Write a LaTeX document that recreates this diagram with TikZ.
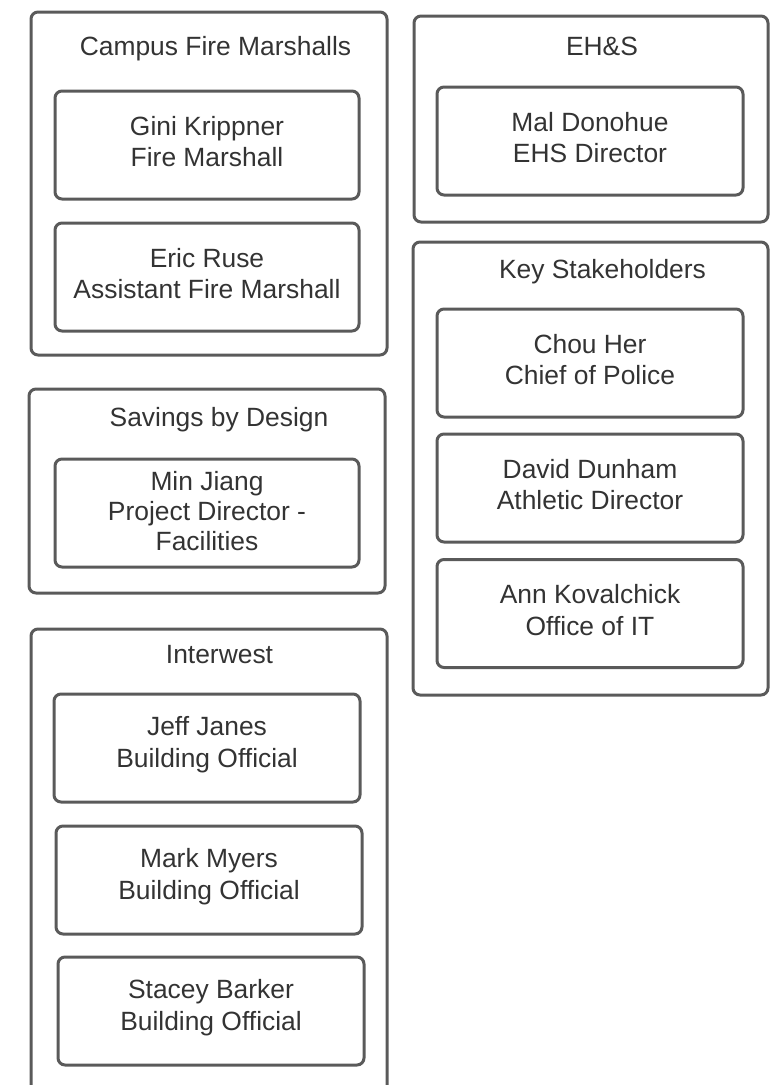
\documentclass[tikz,border=0pt]{standalone}
\usepackage{fontspec}
\setmainfont{Liberation Sans}
\definecolor{linegray}{HTML}{5A5A5A}
\definecolor{textgray}{HTML}{333333}
\begin{document}
\begin{tikzpicture}[x=1pt,y=-1pt,
  frame/.style={draw=linegray, line width=3pt, rounded corners=7pt, inner sep=0pt},
  person/.style={frame, minimum height=108pt},
  who/.style={align=center, text=textgray, inner sep=0pt, yshift=3.5pt,
    font=\fontsize{26.4}{31.5}\selectfont},
  heading/.style={text=textgray, inner sep=0pt, anchor=base,
    font=\fontsize{26.4}{31.5}\selectfont}]
\useasboundingbox (0,0) rectangle (770,1085);
\clip (0,0) rectangle (770,1085);

% Campus Fire Marshalls
\node[frame, minimum width=356pt, minimum height=343pt] (cfm) at (209,183.5) {};
\node[heading] (cfmT) at (215.5,55) {Campus Fire Marshalls};
\node[person, minimum width=304pt] (gini) at (207,145) {};
\node[who] (giniT) at (gini) {Gini Krippner\\Fire Marshall};
\node[person, minimum width=304pt] (eric) at (207,277) {};
\node[who] (ericT) at (eric) {Eric Ruse\\Assistant Fire Marshall};

% Savings by Design
\node[frame, minimum width=356pt, minimum height=204pt] (sbd) at (207,491) {};
\node[heading] (sbdT) at (219,426) {Savings by Design};
\node[person, minimum width=304pt] (min) at (207,513) {};
\node[who, font=\fontsize{26.4}{30}\selectfont, yshift=-1.5pt] (minT) at (min)
  {Min Jiang\\Project Director -\\Facilities};

% Interwest
\node[frame, minimum width=356pt, minimum height=481pt] (iw) at (209,869.5) {};
\node[heading] (iwT) at (219.5,663) {Interwest};
\node[person, minimum width=306pt] (jeff) at (207,748) {};
\node[who] (jeffT) at (jeff) {Jeff Janes\\Building Official};
\node[person, minimum width=306pt] (mark) at (209,880) {};
\node[who] (markT) at (mark) {Mark Myers\\Building Official};
\node[person, minimum width=306pt] (stacey) at (211,1011) {};
\node[who] (staceyT) at (stacey) {Stacey Barker\\Building Official};

% EH&S
\node[frame, minimum width=354pt, minimum height=206pt] (ehs) at (591,119) {};
\node[heading] (ehsT) at (602,55) {EH\&S};
\node[person, minimum width=306pt] (mal) at (590,141) {};
\node[who] (malT) at (mal) {Mal Donohue\\EHS Director};

% Key Stakeholders
\node[frame, minimum width=355pt, minimum height=453pt] (key) at (590.5,468.5) {};
\node[heading] (keyT) at (602.5,278) {Key Stakeholders};
\node[person, minimum width=306pt] (chou) at (590,363) {};
\node[who] (chouT) at (chou) {Chou Her\\Chief of Police};
\node[person, minimum width=306pt] (david) at (590,488) {};
\node[who] (davidT) at (david) {David Dunham\\Athletic Director};
\node[person, minimum width=306pt] (ann) at (590,613.5) {};
\node[who] (annT) at (ann) {Ann Kovalchick\\Office of IT};
\end{tikzpicture}
\end{document}
